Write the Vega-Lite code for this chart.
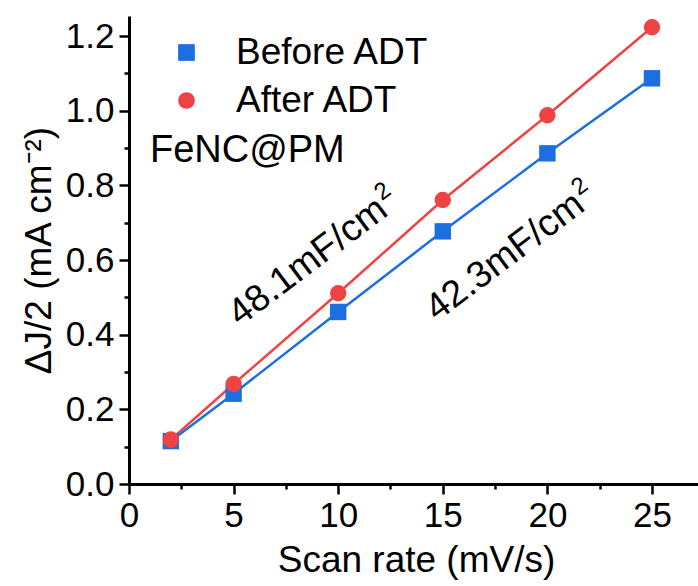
{
  "$schema": "https://vega.github.io/schema/vega-lite/v6.json",
  "width": 569,
  "height": 468,
  "autosize": {"type": "none"},
  "padding": {"left": 129, "top": 16, "right": 0, "bottom": 102},
  "background": "white",
  "config": {
    "view": {"stroke": null},
    "font": "Liberation Sans",
    "axis": {
      "domainColor": "black",
      "domainWidth": 3,
      "tickColor": "black",
      "tickWidth": 2.5,
      "tickSize": 10,
      "labelColor": "black",
      "labelFont": "Liberation Sans",
      "labelFontSize": 35,
      "labelFlush": false,
      "labelOverlap": false,
      "titleFont": "Liberation Sans",
      "titleFontSize": 37,
      "titleFontWeight": "normal",
      "titleColor": "black",
      "grid": false
    }
  },
  "datasets": {
    "pts": [
      {"rate": 2, "value": 0.115, "series": "Before ADT"},
      {"rate": 5, "value": 0.242, "series": "Before ADT"},
      {"rate": 10, "value": 0.461, "series": "Before ADT"},
      {"rate": 15, "value": 0.677, "series": "Before ADT"},
      {"rate": 20, "value": 0.886, "series": "Before ADT"},
      {"rate": 25, "value": 1.087, "series": "Before ADT"},
      {"rate": 2, "value": 0.119, "series": "After ADT"},
      {"rate": 5, "value": 0.268, "series": "After ADT"},
      {"rate": 10, "value": 0.511, "series": "After ADT"},
      {"rate": 15, "value": 0.761, "series": "After ADT"},
      {"rate": 20, "value": 0.988, "series": "After ADT"},
      {"rate": 25, "value": 1.224, "series": "After ADT"}
    ],
    "notes": [
      {"x": 5.3, "y": 0.4206, "label": "48.1mF/cm", "sup": "2"},
      {"x": 14.72, "y": 0.434, "label": "42.3mF/cm", "sup": "2"}
    ],
    "tag": [
      {"x": 1.0, "y": 0.8626, "label": "FeNC@PM"}
    ]
  },
  "resolve": {"axis": {"x": "independent", "y": "independent"}},
  "layer": [
    {
      "data": {"name": "pts"},
      "mark": {"type": "point", "opacity": 0},
      "encoding": {
        "x": {"field": "rate", "type": "quantitative", "scale": {"domain": [0, 27.2], "nice": false},
          "axis": {"values": [0, 5, 10, 15, 20, 25], "title": "Scan rate (mV/s)", "labelPadding": 4, "titlePadding": 9, "titleX": 287}},
        "y": {"field": "value", "type": "quantitative", "scale": {"domain": [0, 1.254], "nice": false},
          "axis": {"values": [0, 0.2, 0.4, 0.6, 0.8, 1.0, 1.2], "format": ".1f", "title": "ΔJ/2 (mA cm⁻²)", "labelPadding": 5, "titlePadding": 7}}
      }
    },
    {
      "data": {"name": "pts"},
      "mark": {"type": "point", "opacity": 0},
      "encoding": {
        "x": {"field": "rate", "type": "quantitative", "scale": {"domain": [0, 27.2], "nice": false},
          "axis": {"orient": "bottom", "values": [2.5, 7.5, 12.5, 17.5, 22.5], "labels": false, "domain": false, "tickSize": 5, "title": null}},
        "y": {"field": "value", "type": "quantitative", "scale": {"domain": [0, 1.254], "nice": false},
          "axis": {"orient": "left", "values": [0.1, 0.3, 0.5, 0.7, 0.9, 1.1], "labels": false, "domain": false, "tickSize": 5, "title": null}}
      }
    },
    {
      "mark": {"type": "rule", "color": "black", "strokeWidth": 3},
      "encoding": {
        "y": {"datum": 1.254, "type": "quantitative", "scale": {"domain": [0, 1.254], "nice": false}, "axis": null}
      }
    },
    {
      "data": {"name": "pts"},
      "transform": [{"filter": "datum.series === 'Before ADT'"}],
      "mark": {"type": "line", "color": "#1B6FE0", "strokeWidth": 2.5},
      "encoding": {
        "x": {"field": "rate", "type": "quantitative", "scale": {"domain": [0, 27.2], "nice": false}, "axis": null},
        "y": {"field": "value", "type": "quantitative", "scale": {"domain": [0, 1.254], "nice": false}, "axis": null}
      }
    },
    {
      "data": {"name": "pts"},
      "transform": [{"filter": "datum.series === 'After ADT'"}],
      "mark": {"type": "line", "color": "#EF4343", "strokeWidth": 2.5},
      "encoding": {
        "x": {"field": "rate", "type": "quantitative", "scale": {"domain": [0, 27.2], "nice": false}, "axis": null},
        "y": {"field": "value", "type": "quantitative", "scale": {"domain": [0, 1.254], "nice": false}, "axis": null}
      }
    },
    {
      "data": {"name": "pts"},
      "mark": {"type": "point", "filled": true, "opacity": 1, "size": 270},
      "encoding": {
        "x": {"field": "rate", "type": "quantitative", "scale": {"domain": [0, 27.2], "nice": false}, "axis": null},
        "y": {"field": "value", "type": "quantitative", "scale": {"domain": [0, 1.254], "nice": false}, "axis": null},
        "color": {"field": "series", "type": "nominal",
          "scale": {"domain": ["Before ADT", "After ADT"], "range": ["#1B6FE0", "#EF4343"]},
          "legend": {"orient": "none", "legendX": 39, "legendY": 18, "title": null, "labelFontSize": 37, "labelFont": "Liberation Sans", "labelColor": "black", "labelLimit": 0, "symbolSize": 280, "labelOffset": 31, "rowPadding": 10, "padding": 0, "symbolStrokeWidth": 0, "symbolOpacity": 1}},
        "shape": {"field": "series", "type": "nominal",
          "scale": {"domain": ["Before ADT", "After ADT"], "range": ["square", "circle"]}},
        "order": {"field": "series", "sort": "descending"}
      }
    },
    {
      "data": {"name": "notes"},
      "mark": {"type": "text", "fontSize": 37.5, "angle": -37, "align": "left", "baseline": "alphabetic", "color": "black", "font": "Liberation Sans"},
      "encoding": {
        "x": {"field": "x", "type": "quantitative", "scale": {"domain": [0, 27.2], "nice": false}, "axis": null},
        "y": {"field": "y", "type": "quantitative", "scale": {"domain": [0, 1.254], "nice": false}, "axis": null},
        "text": {"field": "label"}
      }
    },
    {
      "data": {"name": "notes"},
      "mark": {"type": "text", "fontSize": 24, "angle": -37, "align": "left", "baseline": "alphabetic", "color": "black", "font": "Liberation Sans", "dx": 189, "dy": -15},
      "encoding": {
        "x": {"field": "x", "type": "quantitative", "scale": {"domain": [0, 27.2], "nice": false}, "axis": null},
        "y": {"field": "y", "type": "quantitative", "scale": {"domain": [0, 1.254], "nice": false}, "axis": null},
        "text": {"field": "sup"}
      }
    },
    {
      "data": {"name": "tag"},
      "mark": {"type": "text", "fontSize": 38, "align": "left", "baseline": "alphabetic", "color": "black", "font": "Liberation Sans"},
      "encoding": {
        "x": {"field": "x", "type": "quantitative", "scale": {"domain": [0, 27.2], "nice": false}, "axis": null},
        "y": {"field": "y", "type": "quantitative", "scale": {"domain": [0, 1.254], "nice": false}, "axis": null},
        "text": {"field": "label"}
      }
    }
  ]
}
